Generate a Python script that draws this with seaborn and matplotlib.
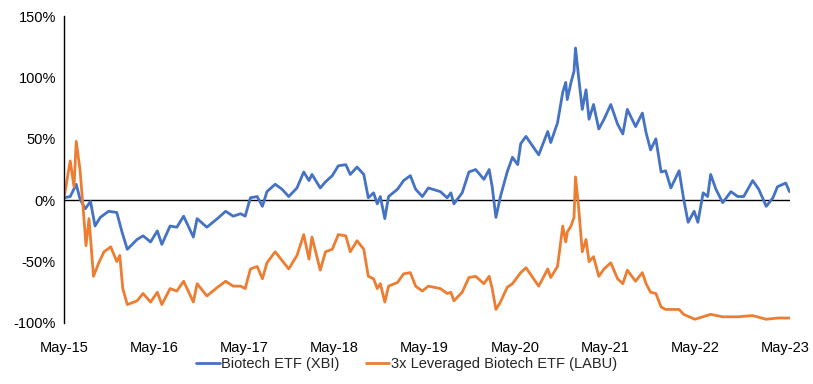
import pandas as pd
import numpy as np

import matplotlib
matplotlib.use('Agg')
import matplotlib.pyplot as plt
import matplotlib.dates as mdates
import seaborn as sns

# cumulative return since May 2015 (months after 2015-05-01, percent)
start_date = '2015-05-01'

xbi_months = [0, 0.8, 1.6, 2.1, 2.8, 3.5, 4.1, 4.8, 5.9, 7.0, 7.7, 8.4, 9.7, 10.5, 11.5,
              12.4, 13.0, 14.1, 15.0, 15.9, 17.2, 17.7, 19.0, 20.4, 21.5, 22.5, 23.5, 24.1,
              24.8, 25.7, 26.4, 27.0, 28.1, 29.0, 29.9, 31.0, 31.9, 32.6, 33.0, 34.1, 34.8,
              35.7, 36.5, 37.5, 38.1, 39.0, 39.9, 40.5, 41.2, 41.7, 42.1, 42.7, 43.2, 44.4,
              45.2, 46.1, 46.8, 47.7, 48.5, 50.1, 51.0, 51.5, 51.9, 53.0, 53.9, 54.8, 55.9,
              56.6, 57.0, 57.5, 58.1, 59.0, 59.7, 60.4, 60.8, 61.5, 62.4, 63.2, 64.4, 64.8,
              65.7, 66.4, 66.8, 67.0, 67.5, 67.9, 68.1, 68.5, 69.0, 69.5, 69.9, 70.5, 71.2,
              71.9, 72.8, 73.7, 74.4, 75.0, 76.1, 77.0, 77.5, 78.1, 78.8, 79.5, 80.1, 80.8,
              81.9, 82.5, 83.1, 83.9, 84.4, 85.1, 85.7, 86.1, 86.8, 87.7, 88.8, 89.7, 90.5,
              91.7, 92.5, 93.5, 94.4, 95.0, 96.1, 96.6]
xbi_pct = [2, 3, 13, 1, -7, -1, -21, -14, -9, -10, -26, -40, -32, -29, -34,
           -25, -36, -21, -22, -13, -30, -15, -22, -15, -9, -13, -11, -13,
           2, 3, -5, 7, 13, 9, 3, 10, 23, 16, 21, 10, 15,
           20, 28, 29, 21, 27, 21, 2, 6, -3, 3, -15, 3, 9,
           16, 20, 9, 3, 10, 7, 2, 6, -3, 6, 23, 25, 17,
           25, 11, -14, 3, 23, 35, 29, 46, 52, 44, 37, 56, 47,
           63, 88, 96, 82, 96, 105, 124, 101, 74, 90, 66, 78, 58,
           66, 78, 62, 54, 74, 60, 71, 55, 41, 50, 23, 24, 10,
           24, 1, -18, -9, -18, 6, 3, 21, 9, -2, 7, 3, 3,
           16, 9, -5, 2, 11, 14, 7]

labu_months = [0, 0.8, 1.3, 1.6, 2.1, 2.5, 2.9, 3.3, 3.9, 4.6, 5.3, 6.2, 7.0, 7.4, 7.8,
               8.4, 9.7, 10.5, 11.5, 12.4, 13.0, 14.1, 15.0, 15.9, 17.2, 17.7, 19.0, 20.4,
               21.5, 22.5, 23.5, 24.1, 24.8, 25.7, 26.4, 27.0, 28.1, 29.0, 29.9, 31.0, 31.9,
               32.6, 33.0, 34.1, 34.8, 35.7, 36.5, 37.5, 38.1, 39.0, 39.9, 40.5, 41.2, 41.7,
               42.1, 42.7, 43.2, 44.4, 45.2, 46.1, 46.8, 47.7, 48.5, 50.1, 51.0, 51.5, 51.9,
               53.0, 53.9, 54.8, 55.9, 56.6, 57.0, 57.5, 58.1, 59.0, 59.7, 60.8, 61.5, 62.4,
               63.2, 64.4, 64.8, 65.7, 66.4, 66.8, 67.0, 67.5, 67.9, 68.1, 68.5, 69.0, 69.5,
               69.9, 70.5, 71.2, 71.9, 72.8, 73.7, 74.4, 75.0, 76.1, 77.0, 77.5, 78.1, 78.8,
               79.5, 80.1, 81.9, 82.5, 84.0, 86.1, 87.7, 89.7, 91.7, 93.5, 95.0, 96.6]
labu_pct = [3, 32, 11, 48, 25, -5, -37, -15, -62, -51, -42, -38, -50, -45, -72,
            -85, -82, -76, -83, -75, -85, -72, -74, -66, -83, -68, -78, -71,
            -66, -70, -70, -72, -56, -54, -64, -51, -42, -49, -56, -45, -28,
            -48, -30, -57, -42, -40, -28, -29, -42, -33, -40, -62, -64, -72,
            -68, -83, -70, -67, -60, -59, -70, -74, -70, -72, -76, -75, -82,
            -75, -63, -62, -68, -62, -72, -89, -83, -71, -68, -59, -55, -63,
            -70, -56, -63, -54, -21, -34, -26, -21, -14, 19, -5, -42, -32,
            -50, -46, -62, -56, -51, -64, -68, -57, -66, -59, -68, -75, -76,
            -87, -89, -89, -93, -97, -93, -95, -95, -94, -97, -96, -96]

series_names = ['Biotech ETF (XBI)', '3x Leveraged Biotech ETF (LABU)']
series_colors = ['#4472C4', '#ED7D31']
y_ticks = [-100, -50, 0, 50, 100, 150]


def months_to_dates(months):
    # month offsets -> timestamps (average month length)
    return pd.Timestamp(start_date) + pd.to_timedelta(np.array(months) * 30.44, unit='D')


df = pd.concat([
    pd.DataFrame({'date': months_to_dates(xbi_months), 'ret': xbi_pct, 'series': series_names[0]}),
    pd.DataFrame({'date': months_to_dates(labu_months), 'ret': labu_pct, 'series': series_names[1]}),
], ignore_index=True)

sns.set_style('white')
plt.rcParams['font.family'] = ['Liberation Sans', 'DejaVu Sans']

fig = plt.figure(figsize=(8.13, 3.84), dpi=100)
ax = fig.add_axes([0.079, 0.159, 0.893, 0.799])

sns.lineplot(data=df, x='date', y='ret', hue='series', hue_order=series_names,
             palette=series_colors, estimator=None, linewidth=2.0, ax=ax, legend=True)

# zero reference line
ax.axhline(0, color='black', linewidth=1.0, zorder=1)

ax.set_ylim(-100, 150)
ax.set_yticks(y_ticks)
ax.set_yticklabels([f'{t}%' for t in y_ticks])
ax.set_xlim(pd.Timestamp(start_date), months_to_dates([96.7])[0])
ax.xaxis.set_major_locator(mdates.YearLocator(base=1, month=5, day=1))
ax.xaxis.set_major_formatter(mdates.DateFormatter('%b-%y'))

ax.set_xlabel('')
ax.set_ylabel('')
ax.tick_params(axis='both', length=0, labelsize=10.5, colors='black')
ax.tick_params(axis='x', pad=13)
ax.tick_params(axis='y', pad=6)

for side in ['top', 'right', 'bottom']:
    ax.spines[side].set_visible(False)
ax.spines['left'].set_color('black')
ax.spines['left'].set_linewidth(1.0)

handles, labels = ax.get_legend_handles_labels()
ax.legend_.remove()
fig.legend(handles, labels, loc='lower center', bbox_to_anchor=(0.5, 0.0), ncol=2,
           frameon=False, fontsize=10.5, handlelength=1.6, handletextpad=0.1,
           columnspacing=1.8)

fig.savefig('out.png', dpi=100)
